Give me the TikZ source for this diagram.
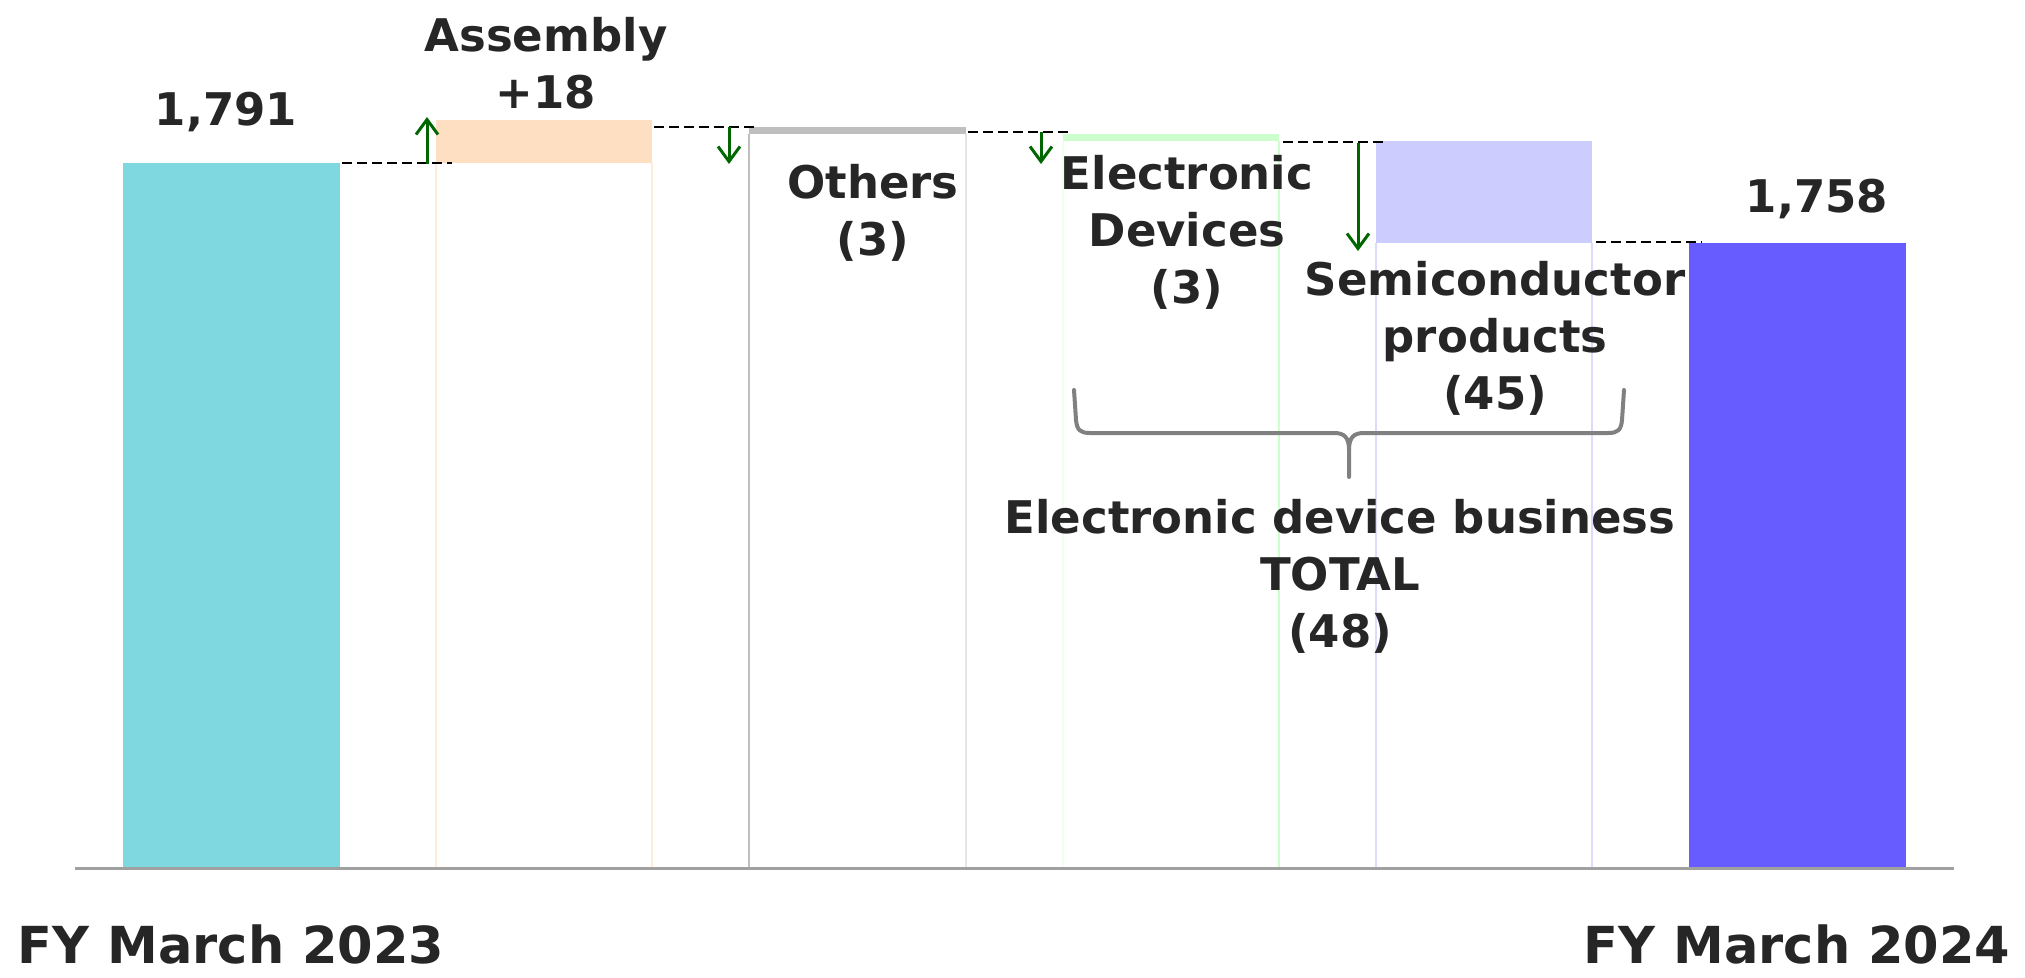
\documentclass[tikz,border=0pt]{standalone}
\usepackage{fontspec}
\setmainfont{DejaVu Sans}
\usetikzlibrary{arrows.meta}
\definecolor{txt}{RGB}{38,38,38}
\definecolor{startbar}{RGB}{127,216,224}
\definecolor{assybar}{RGB}{254,223,194}
\definecolor{otherbar}{RGB}{191,191,191}
\definecolor{edbar}{RGB}{204,255,204}
\definecolor{semibar}{RGB}{204,204,255}
\definecolor{endbar}{RGB}{102,92,255}
\definecolor{arrowgreen}{RGB}{0,102,0}
\definecolor{axisgray}{RGB}{160,160,160}
\definecolor{bracegray}{RGB}{128,128,128}
\begin{document}
\begin{tikzpicture}[x=1pt,y=-1pt,
  % multi-line labels are placed by the baseline of their last line
  lbl/.style={text=txt,font=\fontsize{45}{57}\selectfont\bfseries,align=center,inner sep=0pt,anchor=base},
  axislbl/.style={text=txt,font=\fontsize{51}{60}\selectfont\bfseries,inner sep=0pt,anchor=base},
  guide/.style={dashed,dash pattern=on 10pt off 5pt,line width=2.5pt,black},
  change/.style={arrowgreen,line width=3pt,-{Straight Barb[length=15pt,width=22pt]}},
  ghost/.style={line width=1.5pt}]
\useasboundingbox (0,0) rectangle (2025,977);
% ghost outlines of the floating bars
\draw[ghost,assybar!60] (436,163) -- (436,868) (652,163) -- (652,868);
\draw[ghost,otherbar] (749,134) -- (749,868);
\draw[ghost,black!10] (966,134) -- (966,868);
\draw[ghost,edbar!30] (1063,141) -- (1063,868);
\draw[ghost,edbar] (1279,141) -- (1279,868);
\draw[ghost,semibar!70] (1376,243) -- (1376,868) (1592,243) -- (1592,868);
% bars
\fill[startbar] (123,163) rectangle (340,868);
\fill[assybar] (436,120) rectangle (652,163);
\fill[otherbar] (749,127) rectangle (966,134);
\fill[edbar] (1063,134) rectangle (1279,141);
\fill[semibar] (1376,141) rectangle (1592,243);
\fill[endbar] (1689,243) rectangle (1906,868);
% axis
\draw[axisgray,line width=3pt] (75,868) -- (1954,868);
% step guides
\draw[guide] (342,163) -- (452,163);
\draw[guide] (654,127) -- (758,127);
\draw[guide] (968,132) -- (1070,132);
\draw[guide] (1283,142) -- (1386,142);
\draw[guide] (1596,242) -- (1702,242);
% change arrows
\coordinate (a1s) at (427,164); \coordinate (a1e) at (427,117);
\coordinate (a2s) at (729,127); \coordinate (a2e) at (729,164);
\coordinate (a3s) at (1041,132); \coordinate (a3e) at (1041,164);
\coordinate (a4s) at (1358,143); \coordinate (a4e) at (1358,251);
\draw[change] (a1s) -- (a1e);
\draw[change] (a2s) -- (a2e);
\draw[change] (a3s) -- (a3e);
\draw[change] (a4s) -- (a4e);
% brace
\draw[bracegray,line width=4pt,line cap=round,line join=round]
  (1074,390) -- (1076,420) .. controls (1077,430) and (1080,433) .. (1090,433)
  -- (1334,433) .. controls (1344,433) and (1349,437) .. (1349,450) -- (1349,477);
\draw[bracegray,line width=4pt,line cap=round,line join=round]
  (1624,390) -- (1622,420) .. controls (1621,430) and (1618,433) .. (1608,433)
  -- (1364,433) .. controls (1354,433) and (1349,437) .. (1349,450);
% labels
\node[lbl] (v0) at (226,125) {1,791};
\node[lbl] (v1) at (1817,212) {1,758};
\node[lbl] (assy) at (546,108) {Assembly\\+18};
\node[lbl] (oth) at (873,255) {Others\\(3)};
\node[lbl] (ed) at (1187,303) {Electronic\\Devices\\(3)};
\node[lbl] (semi) at (1495,409) {Semiconductor\\products\\(45)};
\node[lbl] (tot) at (1340,647) {Electronic device business\\TOTAL\\(48)};
\node[axislbl] (fy23) at (231,963) {FY March 2023};
\node[axislbl] (fy24) at (1797,963) {FY March 2024};
\end{tikzpicture}
\end{document}
